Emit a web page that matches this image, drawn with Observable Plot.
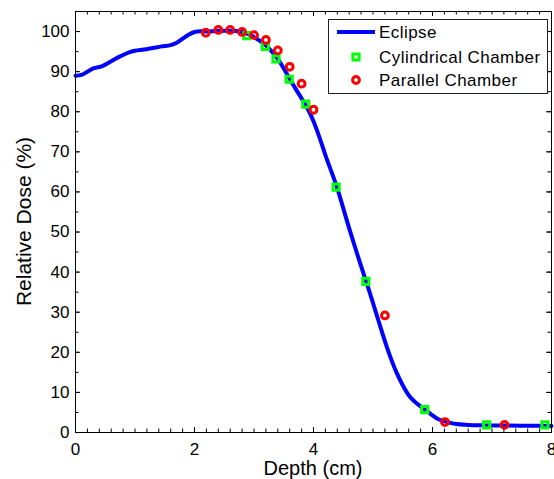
<!DOCTYPE html>
<html>
<head>
<meta charset="utf-8">
<script src="https://cdn.jsdelivr.net/npm/d3@7"></script>
<script src="https://cdn.jsdelivr.net/npm/@observablehq/plot@0.6"></script>
<style>
  body { margin: 0; background: white; }
  svg { font-family: "Liberation Sans", Arial, sans-serif; }
</style>
</head>
<body>
<div id="chart"></div>
<script>
// Eclipse calculated depth-dose curve
const eclipseDepth = [0,0.1,0.2,0.3,0.45,0.6,0.75,0.9,1.0,1.15,1.3,1.45,1.6,1.7,1.8,1.9,2.0,2.1,2.2,2.4,2.6,2.8,2.9,3.0,3.1,3.2,3.3,3.4,3.5,3.6,3.7,3.8,3.9,4.0,4.1,4.2,4.4,4.6,4.8,4.9,5.0,5.1,5.2,5.3,5.4,5.5,5.6,5.7,5.8,5.9,6.0,6.1,6.2,6.3,6.4,6.6,6.8,7.0,7.5,8.0];
const eclipseDose  = [89.0,89.2,90.0,90.8,91.4,92.6,93.8,94.8,95.2,95.5,95.9,96.3,96.6,97.2,98.2,99.2,99.9,100.1,100.0,100.2,100.2,99.9,99.4,98.6,97.7,96.5,95.0,93.2,90.8,88.2,85.7,83.3,80.8,77.6,73.6,69.2,60.9,50.9,41.5,37.0,32.3,27.5,22.8,18.5,14.8,11.8,9.3,7.7,6.5,5.4,4.3,3.3,2.8,2.4,2.1,1.9,1.8,1.75,1.7,1.65];

// Cylindrical chamber measurements
const cylDepth = [2.88,3.19,3.37,3.59,3.87,4.38,4.88,5.87,6.91,7.89];
const cylDose  = [99.0,96.3,93.2,88.1,81.9,61.2,37.7,5.7,1.9,1.9];

// Parallel chamber measurements
const parDepth = [2.19,2.40,2.60,2.80,3.00,3.20,3.40,3.60,3.80,4.00,5.20,6.21,7.21];
const parDose  = [99.7,100.4,100.4,99.9,99.1,97.9,95.3,91.2,87.0,80.5,29.2,2.6,1.9];

// Axis ticks
const xTicks = [0,2,4,6,8];
const yTicks = [0,10,20,30,40,50,60,70,80,90,100];
const xMinor = d3.range(0, 41).map(i => i * 0.2);
const yMinor = d3.range(0, 22).map(i => i * 5);

const legendLabels = ["Eclipse", "Cylindrical Chamber", "Parallel Chamber"];
const xLabel = "Depth (cm)";
const yLabel = "Relative Dose (%)";

const eclipse = eclipseDepth.map((d, i) => ({depth: d, dose: eclipseDose[i]}));
const cyl = cylDepth.map((d, i) => ({depth: d, dose: cylDose[i]}));
const par = parDepth.map((d, i) => ({depth: d, dose: parDose[i]}));

const W = 554, H = 479, ML = 75, MR = 3, MT = 11, MB = 47;
const PH = H - MT - MB, PW = W - ML - MR;

const plot = Plot.plot({
  width: W, height: H,
  marginLeft: ML, marginRight: MR, marginTop: MT, marginBottom: MB,
  x: {domain: [0, 8]},
  y: {domain: [0, 105]},
  style: {background: "white", color: "black", fontFamily: "'Liberation Sans', Arial, sans-serif", overflow: "visible"},
  marks: [
    Plot.line(eclipse, {x: "depth", y: "dose", stroke: "#0000ff", strokeWidth: 4, curve: "monotone-x"}),
    Plot.dot(cyl, {x: "depth", y: "dose", symbol: "square", r: 3.5, stroke: "#00ff00", strokeWidth: 3, fill: "none"}),
    Plot.dot(par, {x: "depth", y: "dose", symbol: "circle", r: 3.4, stroke: "#ff0000", strokeWidth: 3, fill: "none"}),
    // inward tick marks on all four sides
    Plot.tickX(xMinor, {x: d => d, insetTop: PH - 3.5, stroke: "black"}),
    Plot.tickX(xMinor, {x: d => d, insetBottom: PH - 3.5, stroke: "black"}),
    Plot.tickX(xTicks, {x: d => d, insetTop: PH - 5, stroke: "black"}),
    Plot.tickX(xTicks, {x: d => d, insetBottom: PH - 5, stroke: "black"}),
    Plot.tickY(yMinor, {y: d => d, insetRight: PW - 3.5, stroke: "black"}),
    Plot.tickY(yMinor, {y: d => d, insetLeft: PW - 3.5, stroke: "black"}),
    Plot.tickY(yTicks, {y: d => d, insetRight: PW - 5, stroke: "black"}),
    Plot.tickY(yTicks, {y: d => d, insetLeft: PW - 5, stroke: "black"}),
    Plot.axisX(xTicks, {tickSize: 0, tickPadding: 10, fontSize: 17, label: null}),
    Plot.axisY(yTicks, {tickSize: 0, tickPadding: 6, fontSize: 17, label: null}),
    Plot.frame({stroke: "black", strokeWidth: 1})
  ]
});

document.getElementById("chart").appendChild(plot);

const svg = d3.select(plot);

// axis labels
svg.append("text")
  .attr("x", ML + PW / 2).attr("y", 475)
  .attr("text-anchor", "middle")
  .attr("font-size", 20).attr("fill", "black")
  .text(xLabel);

svg.append("text")
  .attr("transform", `translate(30.5,${MT + PH / 2}) rotate(-90)`)
  .attr("text-anchor", "middle")
  .attr("font-size", 21).attr("fill", "black")
  .text(yLabel);

// legend
const lg = svg.append("g");
lg.append("rect")
  .attr("x", 328.5).attr("y", 19.5).attr("width", 219).attr("height", 74)
  .attr("fill", "white").attr("stroke", "#222").attr("stroke-width", 1);
lg.append("line")
  .attr("x1", 337).attr("x2", 375).attr("y1", 32).attr("y2", 32)
  .attr("stroke", "#0000ff").attr("stroke-width", 4);
const sq = d3.symbol(d3.symbolSquare, 3.5 * 3.5 * Math.PI)();
const ci = d3.symbol(d3.symbolCircle, 3.4 * 3.4 * Math.PI)();
lg.append("path").attr("d", sq).attr("transform", "translate(356,57)")
  .attr("fill", "none").attr("stroke", "#00ff00").attr("stroke-width", 3);
lg.append("path").attr("d", ci).attr("transform", "translate(356,80)")
  .attr("fill", "none").attr("stroke", "#ff0000").attr("stroke-width", 3);
[32, 57, 80].forEach((y, i) => {
  lg.append("text")
    .attr("x", 379).attr("y", y + 6)
    .attr("text-anchor", "start")
    .attr("font-size", 17).attr("letter-spacing", 0.45).attr("fill", "black")
    .text(legendLabels[i]);
});
</script>
</body>
</html>
